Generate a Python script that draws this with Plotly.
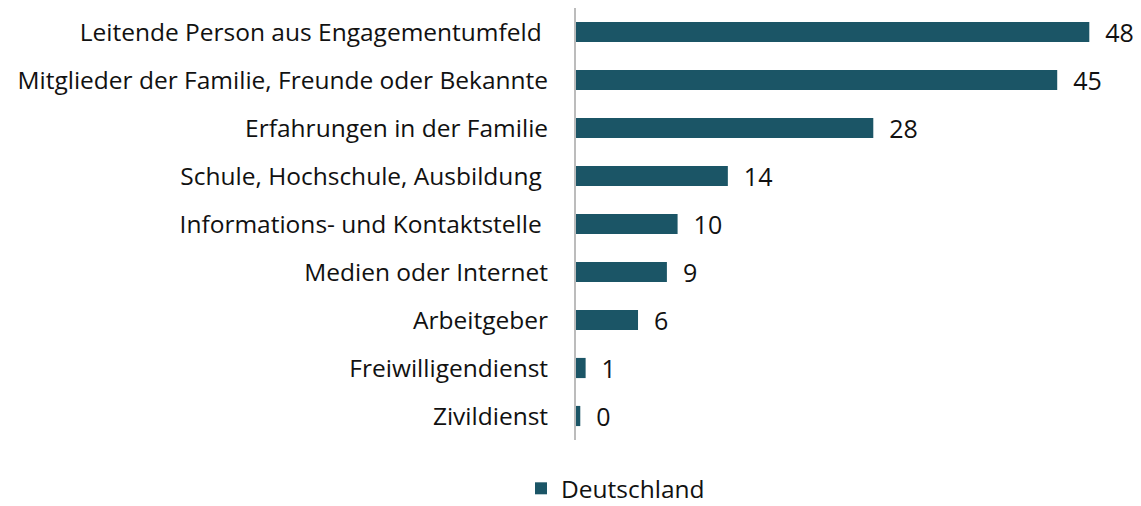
import plotly.graph_objects as go

categories = [
    "Leitende Person aus Engagementumfeld\u00a0",
    "Mitglieder der Familie, Freunde oder Bekannte",
    "Erfahrungen in der Familie",
    "Schule, Hochschule, Ausbildung\u00a0",
    "Informations- und Kontaktstelle\u00a0",
    "Medien oder Internet",
    "Arbeitgeber",
    "Freiwilligendienst",
    "Zivildienst",
]
values = [48, 45, 27.8, 14.2, 9.5, 8.5, 5.8, 0.9, 0.4]
labels = ["48", "45", "28", "14", "10", "9", "6", "1", "0"]
series_name = "Deutschland"

color = "#1b5566"
font_family = "'Open Sans', sans-serif"

fig = go.Figure()
fig.add_trace(go.Bar(
    y=categories,
    x=values,
    orientation="h",
    name=series_name,
    marker=dict(color=color, line=dict(width=0)),
    text=labels,
    texttemplate="\u00a0\u00a0%{text}",
    textposition="outside",
    constraintext="none",
    textfont=dict(size=25, color="#111111", family=font_family),
    cliponaxis=False,
    showlegend=True,
))

# The page body adds an 8px offset, so the figure is sized to fit the window.
fig.update_layout(
    width=1133,
    height=498,
    margin=dict(l=568, r=41, t=0, b=66, autoexpand=False),
    paper_bgcolor="white",
    plot_bgcolor="white",
    bargap=0.58,
    font=dict(family=font_family, size=25, color="#111111"),
    xaxis=dict(
        range=[0, 49],
        showgrid=False,
        zeroline=False,
        showticklabels=False,
        showline=False,
        fixedrange=True,
    ),
    yaxis=dict(
        autorange="reversed",
        showgrid=False,
        zeroline=False,
        showline=True,
        linecolor="#bcbcbc",
        linewidth=2,
        ticks="",
        ticklabelstandoff=21,
        tickfont=dict(size=24.5, color="#111111", family=font_family),
    ),
    legend=dict(
        orientation="h",
        x=-0.105,
        xanchor="left",
        y=-0.112,
        yanchor="middle",
        font=dict(size=24.5, color="#111111", family=font_family),
        itemwidth=30,
    ),
)

fig.write_html("out.html")
